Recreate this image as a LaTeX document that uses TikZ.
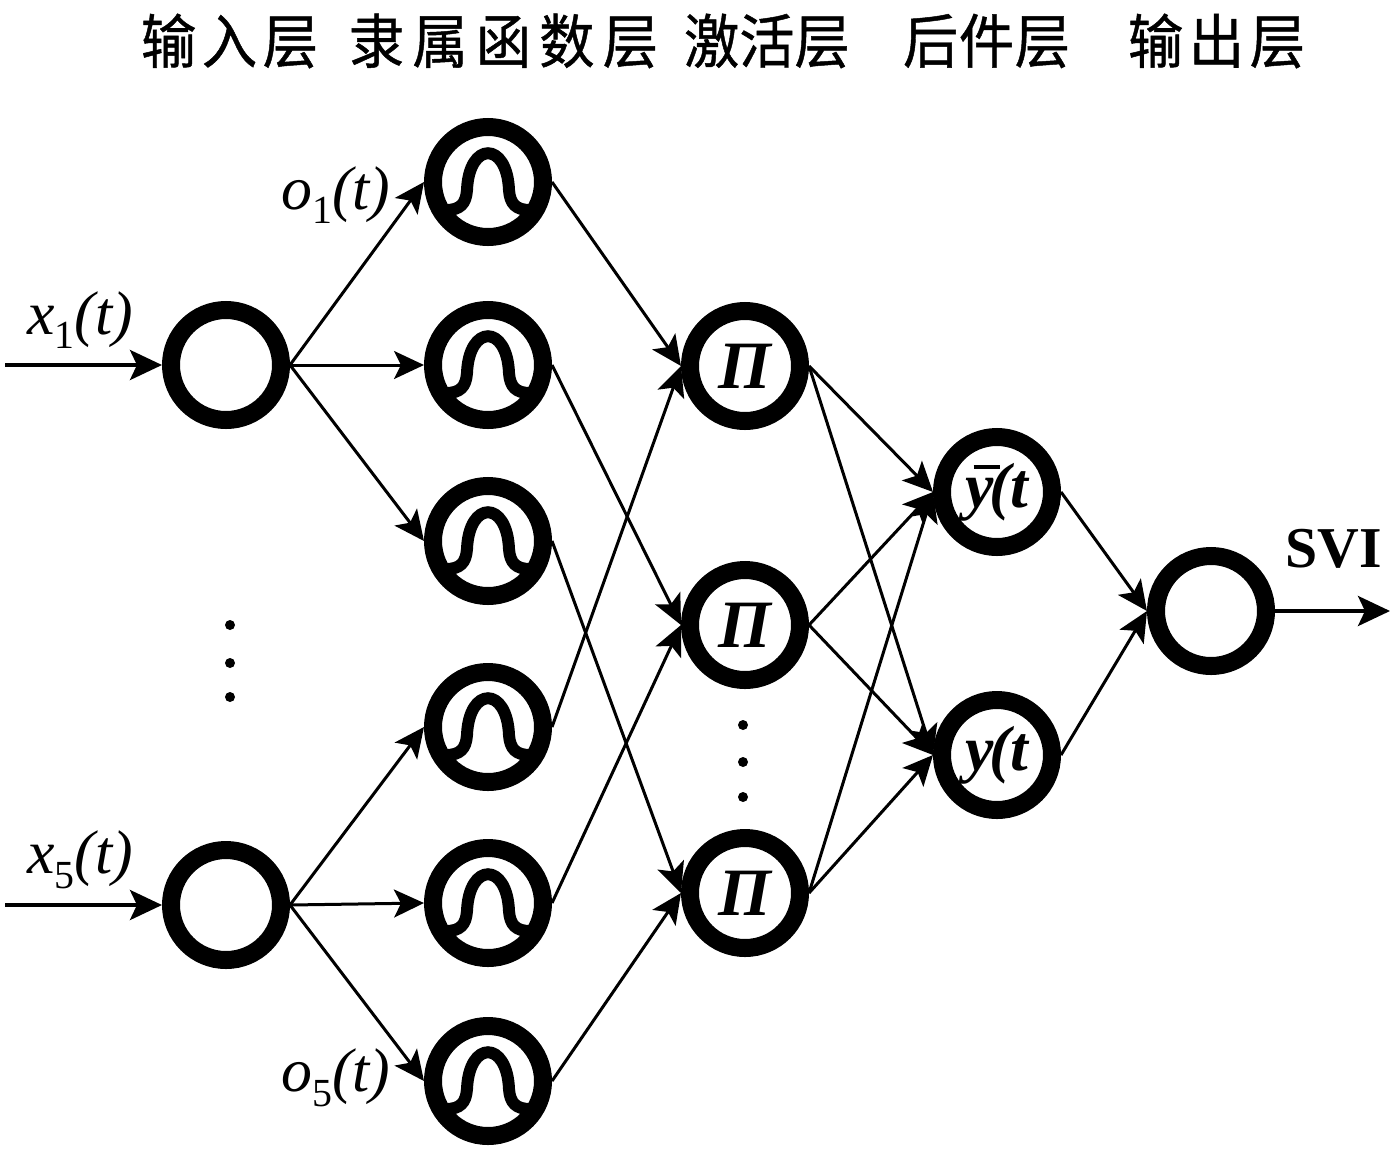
\documentclass[tikz,border=0pt]{standalone}
\usepackage{fontspec}
\setmainfont{Liberation Serif}
\newfontfamily\cjk{Noto Sans CJK SC}[FakeBold=0.8]
\usetikzlibrary{arrows.meta}
\tikzset{
  ring/.style={circle, draw, line width=18bp, minimum size=110bp, inner sep=0pt},
  conn/.style={line width=3bp, -{Stealth[length=30bp,width=28bp,inset=7bp]}},
  ioarrow/.style={line width=4bp, -{Stealth[length=32bp,width=30bp,inset=7bp]}},
  bumpline/.style={line width=12bp, line cap=round},
  titletext/.style={font=\cjk\fontsize{59}{59}\selectfont, inner sep=0pt},
  lab/.style={font=\fontsize{62}{62}\selectfont\itshape, inner sep=0pt},
  ringtext/.style={font=\fontsize{64}{64}\selectfont\bfseries\itshape},
  pitext/.style={font=\fontsize{68}{68}\selectfont\bfseries\itshape},
  svitext/.style={font=\fontsize{58}{58}\selectfont\bfseries, inner sep=0pt}
}
\newcommand{\mfbump}[1]{\draw[bumpline, shift={(#1.center)}] (-42,28) .. controls (-28,28) and (-22,22) .. (-21,8) .. controls (-19,-41) and (19,-41) .. (21,8) .. controls (22,22) and (28,28) .. (42,28);}
\newcommand{\ybarsym}{\makebox[0pt][l]{\hspace{0.12em}\rule[0.6em]{0.42em}{0.07em}}y}
\newcommand{\subsc}[1]{\raisebox{-0.24em}{\fontsize{40}{40}\selectfont\upshape #1}}
\newcommand{\tc}[1]{\scalebox{0.94}[1]{#1}}
\begin{document}
\begin{tikzpicture}[x=1bp,y=-1bp]
\useasboundingbox[fill=white] (0,0) rectangle (1395,1151);

% title
\node[titletext] (t1) at (229.5,41) {\makebox[177bp][s]{\tc{输}\hfil\tc{入}\hfil\tc{层}}};
\node[titletext] (t2) at (503.5,41) {\makebox[309bp][s]{\tc{隶}\hfil\tc{属}\hfil\tc{函}\hfil\tc{数}\hfil\tc{层}}};
\node[titletext] (t3) at (765.5,41) {\makebox[163bp][s]{\tc{激}\hfil\tc{活}\hfil\tc{层}}};
\node[titletext] (t4) at (986.5,41) {\makebox[167bp][s]{\tc{后}\hfil\tc{件}\hfil\tc{层}}};
\node[titletext] (t5) at (1216.5,41) {\makebox[177bp][s]{\tc{输}\hfil\tc{出}\hfil\tc{层}}};

% input layer
\node[ring] (in1) at (226,365) {};
\node[ring] (in5) at (226,905) {};
\coordinate (x1s) at (5,365);
\coordinate (x5s) at (5,905);

% membership layer
\node[ring] (m1) at (488,182) {};
\node[ring] (m2) at (488,365) {};
\node[ring] (m3) at (488,541) {};
\node[ring] (m4) at (488,727) {};
\node[ring] (m5) at (488,903) {};
\node[ring] (m6) at (488,1081) {};
\foreach \m in {m1,m2,m3,m4,m5,m6} {\mfbump{\m}}

% activation layer
\node[ring, pitext] (p1) at (745,366) {\char"03A0};
\node[ring, pitext] (p2) at (745,625) {\char"03A0};
\node[ring, pitext] (p3) at (745,893) {\char"03A0};

% consequent layer
\node[ring, ringtext] (y1) at (997,492) {\ybarsym\kern-0.08em(t};
\node[ring, ringtext] (y2) at (997,755) {y\kern-0.08em(t};

% output layer
\node[ring] (out) at (1211,611) {};
\coordinate (outend) at (1390,611);

% labels
\node[lab] (lx1) at (80,320) {x\subsc{1}(t)};
\node[lab] (lx5) at (80,860) {x\subsc{5}(t)};
\node[lab] (lo1) at (336,195) {o\subsc{1}(t)};
\node[lab] (lo5) at (336,1078) {o\subsc{5}(t)};
\node[svitext, anchor=base] (svi) at (1334,567) {SVI};

% dots
\foreach \yy in {625,663,697} {\fill (230,\yy) circle (5);}
\foreach \yy in {725,762,797} {\fill (743,\yy) circle (5);}

% connectors
\draw[ioarrow] (x1s) -- (in1.west);
\draw[ioarrow] (x5s) -- (in5.west);
\foreach \t in {m1,m2,m3} {\draw[conn] (in1.east) -- (\t.west);}
\foreach \t in {m4,m5,m6} {\draw[conn] (in5.east) -- (\t.west);}
\draw[conn] (m1.east) -- (p1.west);
\draw[conn] (m2.east) -- (p2.west);
\draw[conn] (m3.east) -- (p3.west);
\draw[conn] (m4.east) -- (p1.west);
\draw[conn] (m5.east) -- (p2.west);
\draw[conn] (m6.east) -- (p3.west);
\foreach \s in {p1,p2,p3} {
  \draw[conn] (\s.east) -- (y1.west);
  \draw[conn] (\s.east) -- (y2.west);
}
\draw[conn] (y1.east) -- (out.west);
\draw[conn] (y2.east) -- (out.west);
\draw[ioarrow] (out.east) -- (outend);
\end{tikzpicture}
\end{document}
